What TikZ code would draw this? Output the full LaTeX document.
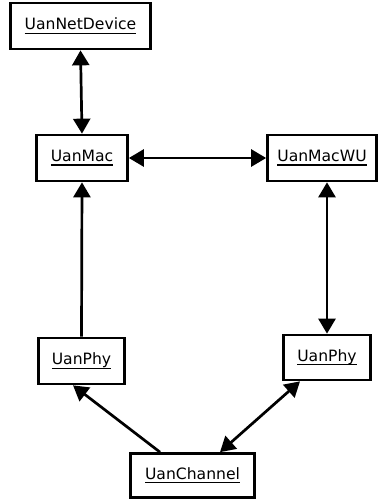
\documentclass[tikz,border=0pt]{standalone}
\usepackage{fontspec}
\setmainfont{DejaVu Sans}
\usetikzlibrary{arrows.meta}
% underline at a fixed depth below the baseline
\newcommand{\ulname}[1]{\setbox0\hbox{#1}\rlap{\vrule height -2.6pt depth 3.9pt width \wd0}\box0}
\begin{document}
\begin{tikzpicture}[x=1pt,y=-1pt,
  cls/.style={draw, line width=2.7pt, inner sep=0pt, minimum height=46pt, font=\fontsize{15.6}{18}\selectfont},
  link/.style={line width=2.7pt, {Triangle[length=15pt,width=17pt]}-{Triangle[length=15pt,width=17pt]}},
  onehead/.style={line width=2.7pt, -{Triangle[length=15pt,width=17pt]}}]
\useasboundingbox (0,0) rectangle (378,499);
\node[cls, minimum width=140pt] (nd) at (80.5,26) {\ulname{UanNetDevice}};
\node[cls, minimum width=91pt] (mac) at (82,158) {\ulname{UanMac}};
\node[cls, minimum width=109pt] (macwu) at (322,158) {\ulname{UanMacWU}};
\node[cls, minimum width=86pt] (phyl) at (81.5,361) {\ulname{UanPhy}};
\node[cls, minimum width=87pt, minimum height=45pt] (phyr) at (327,357.5) {\ulname{UanPhy}};
\node[cls, minimum width=124pt, minimum height=44pt] (ch) at (192.5,475.5) {\ulname{UanChannel}};
\draw[link] (nd.south) -- (mac.north);
\draw[link] (mac.east) -- (macwu.west);
\draw[onehead] (phyl.north) -- (mac.south);
\draw[link] (phyr.north |- macwu.south) -- (phyr.north);
\draw[onehead] ([xshift=-32.5pt]ch.north) -- ([xshift=-8.5pt]phyl.south);
\draw[link] ([xshift=27.5pt]ch.north) -- ([xshift=-27pt]phyr.south);
\end{tikzpicture}
\end{document}
